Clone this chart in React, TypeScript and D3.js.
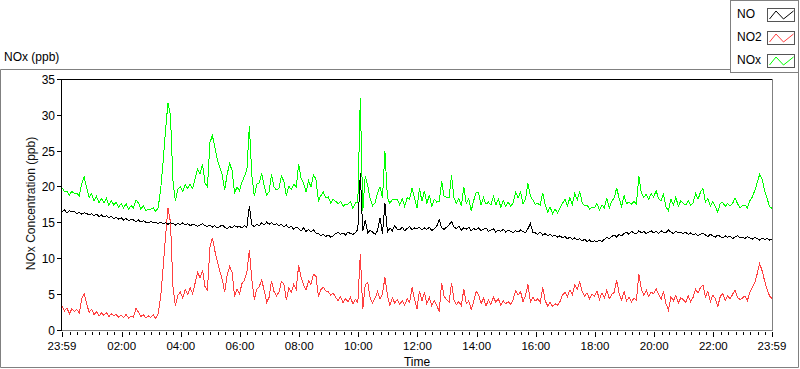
import React from 'react';
import * as d3 from 'd3';

// samples every 5 minutes starting at 23:59
const STEP_MIN = 5;

const NO = [
  16.5, 16.7, 16.3, 16.6, 16.4, 16.5, 16.2, 16.4, 16.1, 16.3, 16.2, 16.0,
  16.2, 15.9, 16.1, 15.8, 16.0, 15.7, 15.9, 15.6, 15.8, 15.5, 15.7, 15.4,
  15.6, 15.3, 15.5, 15.2, 15.4, 15.3, 15.1, 15.3, 15.0, 15.2, 15.0, 14.9,
  15.1, 14.9, 15.0, 14.8, 15.0, 14.8, 14.9, 14.7, 14.9, 14.8, 14.6, 14.8,
  14.7, 14.9, 14.6, 14.8, 14.5, 14.7, 14.6, 14.4, 14.6, 14.8, 14.5, 14.4,
  14.6, 14.3, 14.5, 14.2, 14.4, 14.6, 14.3, 14.1, 14.4, 14.2, 14.5, 14.3,
  14.4, 14.2, 14.5, 14.3, 17.3, 14.6, 14.4, 14.7, 14.5, 14.9, 14.6, 15.0,
  14.7, 14.9, 14.6, 14.8, 14.5, 14.7, 14.3, 14.6, 14.2, 14.4, 14.0, 14.3,
  14.1, 13.8, 14.2, 13.7, 14.0, 13.6, 13.9, 13.5, 13.4, 13.1, 13.3, 13.0,
  13.2, 12.9, 13.1, 13.4, 13.6, 13.3, 13.5, 13.2, 13.6, 13.4, 13.3, 13.5,
  14.0, 21.8, 13.7, 15.3, 13.5, 13.9, 13.6, 13.3, 13.8, 15.6, 13.4, 17.6,
  13.6, 14.2, 13.8, 14.5, 14.0, 13.9, 14.3, 13.8, 14.1, 14.4, 13.9, 14.2,
  14.1, 14.3, 13.9, 14.2, 14.0, 14.3, 13.8, 14.1, 14.4, 15.4, 14.2, 14.0,
  14.3, 14.6, 15.1, 14.3, 14.1, 14.4, 13.9, 14.2, 14.0, 14.3, 13.8, 14.1,
  13.9, 14.2, 13.8, 14.0, 14.2, 13.7, 13.9, 14.1, 13.6, 13.9, 13.7, 14.0,
  13.6, 13.9, 13.7, 13.5, 13.8, 13.6, 13.9, 13.7, 13.5, 14.1, 14.8, 13.6,
  13.5, 13.3, 13.6, 13.2, 13.4, 13.1, 13.3, 13.0, 13.2, 12.9, 13.1, 12.8,
  13.0, 12.7, 12.9, 12.6, 12.8, 12.5, 12.7, 12.4, 12.6, 12.3, 12.5, 12.2,
  12.4, 12.2, 12.5, 12.3, 12.6, 12.9, 12.7, 13.0, 13.2, 12.9, 13.3, 13.1,
  13.4, 13.6, 13.3, 13.7, 13.5, 13.4, 13.8, 13.5, 13.7, 13.4, 13.6, 13.8,
  13.5, 13.7, 13.4, 13.8, 13.6, 13.5, 13.9, 13.6, 13.4, 13.7, 13.5, 13.6,
  13.4, 13.6, 13.3, 13.5, 13.2, 13.4, 13.1, 13.3, 13.5, 13.2, 13.0, 13.3,
  13.1, 12.9, 13.2, 13.0, 12.8, 13.1, 12.9, 13.0, 12.7, 12.9, 13.1, 12.8,
  12.9, 12.7, 13.0, 12.8, 12.6, 12.9, 12.7, 12.5, 12.8, 12.6, 12.7, 12.5,
  12.6
];

const NO2 = [
  3.3, 2.6, 3.0, 2.2, 2.9, 2.5, 2.8, 2.3, 4.3, 5.0, 3.6, 2.4,
  2.8, 2.1, 2.5, 1.9, 2.3, 2.0, 2.4, 1.8, 2.2, 1.9, 2.1, 1.7,
  2.0, 1.7, 2.1, 1.6, 1.9, 1.7, 3.0, 2.4, 1.8, 2.1, 1.6, 1.9,
  1.7, 2.1, 1.5, 2.2, 4.5, 8.5, 13.0, 17.0, 15.0, 6.0, 3.3, 4.8,
  5.2, 4.4, 5.6, 4.9, 5.8, 5.0, 6.5, 8.0, 7.2, 8.3, 6.0, 5.5,
  11.5, 12.8, 11.0, 9.5, 8.2, 7.0, 5.2, 7.6, 8.8, 8.0, 4.6, 5.6,
  5.0, 6.4, 6.9, 8.0, 11.1, 7.0, 4.2, 5.6, 6.0, 6.9, 5.5, 3.8,
  4.5, 6.8, 5.3, 4.7, 5.2, 6.7, 6.4, 4.1, 5.8, 5.2, 6.3, 5.6,
  9.0, 7.3, 6.2, 5.5, 6.8, 6.3, 7.7, 7.5, 4.6, 5.6, 5.9, 5.4,
  5.3, 4.8, 5.1, 4.5, 4.0, 4.6, 3.7, 4.3, 3.9, 4.5, 3.6, 4.2,
  3.8, 10.5, 2.8, 6.2, 6.6, 4.4, 3.7, 4.4, 5.3, 4.3, 5.0, 7.3,
  4.8, 3.4, 4.4, 3.7, 4.2, 3.5, 4.0, 3.4, 4.3, 3.8, 5.9, 4.2,
  2.9, 5.4, 4.0, 5.2, 3.6, 4.5, 3.3, 4.1, 3.4, 2.5, 6.5, 4.6,
  4.2, 3.8, 6.5, 4.1, 3.5, 3.9, 3.3, 5.7, 3.6, 4.0, 2.8, 3.9,
  5.3, 4.9, 3.6, 4.4, 3.3, 4.1, 3.5, 4.5, 3.8, 4.3, 3.4, 4.0,
  3.6, 3.9, 3.5, 4.2, 5.4, 4.8, 5.3, 3.9, 4.7, 6.3, 3.8, 4.5,
  4.0, 4.3, 3.8, 5.9, 4.0, 3.3, 3.8, 3.2, 3.6, 3.4, 3.9, 4.8,
  5.2, 4.6, 5.5, 4.9, 6.2, 5.6, 6.6, 5.3, 4.7, 5.1, 4.3, 4.9,
  4.6, 5.4, 4.2, 5.1, 4.4, 5.5, 4.3, 4.9, 5.2, 6.9, 5.0, 4.1,
  5.3, 4.0, 4.5, 3.8, 4.4, 4.1, 7.7, 5.6, 4.8, 5.5, 4.6, 5.2,
  5.0, 5.7, 4.9, 4.2, 5.3, 3.6, 2.7, 4.6, 4.0, 4.8, 3.7, 4.4,
  4.2, 3.8, 4.7, 3.9, 4.5, 5.6, 5.1, 5.9, 6.2, 4.6, 5.3, 3.9,
  4.8, 4.3, 3.2, 4.6, 5.0, 4.1, 4.7, 4.3, 4.9, 5.5, 4.5, 4.2,
  4.4, 4.7, 4.0, 5.2, 5.9, 6.5, 7.8, 9.2, 8.2, 6.8, 5.6, 4.7,
  4.3
];

// NOx is the sum of NO and NO2
const NOx = NO.map((v, i) => v + NO2[i]);

const xTickMinutes = [0, 121, 241, 361, 481, 601, 721, 841, 961, 1081, 1201, 1321, 1440];
const xTickLabels = ['23:59', '02:00', '04:00', '06:00', '08:00', '10:00', '12:00', '14:00', '16:00', '18:00', '20:00', '22:00', '23:59'];
const yTicks = [0, 5, 10, 15, 20, 25, 30, 35];

const legendNames = ['NO', 'NO2', 'NOx'];
const legendColors = ['#000000', '#ff4040', '#00ff00'];

const FONT = '"Liberation Sans", Arial, sans-serif';

export default function App() {
  const width = 800, height = 369;
  const margin = { left: 62, right: 772, top: 79, bottom: 330 };

  const x = d3.scaleLinear().domain([0, 1440]).range([margin.left, margin.right]);
  const y = d3.scaleLinear().domain([0, 35]).range([329.5, margin.top]);

  const minutes = NO.map((_, i) => i * STEP_MIN);
  const line = d3.line<number>()
    .x((_, i) => x(minutes[i]))
    .y(d => y(d));

  const minorTicks = d3.range(1, 1440, 15).filter(m => !xTickMinutes.includes(m));

  // legend icon zigzag in box-local coords
  const icon = d3.line<[number, number]>()([[2, 10.5], [8.5, 2.5], [16, 10.5], [26, 2.5]]);

  return (
    <svg width={width} height={height} style={{ position: 'absolute', left: 0, top: 0, background: '#fff' }}
      fontFamily={FONT}>
      {/* outer frame */}
      <path d="M730,69.5 H0.5 V367.5 H798.5 V72" fill="none" stroke="#808080" />
      <text x={4} y={61} fontSize={12} fill="#000">NOx (ppb)</text>

      {/* legend */}
      <rect x={730.5} y={0.5} width={68} height={72} fill="#fff" stroke="#808080" />
      {legendNames.map((n, i) => (
        <g key={n} transform={`translate(0, ${i * 23})`}>
          <text x={737} y={18} fontSize={12} fill="#000">{n}</text>
          <g transform="translate(767.5, 8.5)">
            <rect x={0} y={0} width={27} height={13} fill="#fff" stroke="#555" />
            <path d={icon || ''} fill="none" stroke={legendColors[i]} strokeWidth={1} />
          </g>
        </g>
      ))}

      {/* plot area */}
      <rect x={margin.left} y={margin.top} width={margin.right - margin.left} height={margin.bottom - margin.top} fill="#fff" />

      {/* series */}
      <g fill="none" strokeWidth={1} shapeRendering="crispEdges">
        <path d={line(NOx) || ''} stroke="#00ff00" />
        <path d={line(NO2) || ''} stroke="#ff4040" />
        <path d={line(NO) || ''} stroke="#000000" />
      </g>

      {/* plot borders */}
      <line x1={margin.left - 0.5} x2={margin.right} y1={margin.top + 0.5} y2={margin.top + 0.5} stroke="#000" />
      <line x1={margin.left - 0.5} x2={margin.left - 0.5} y1={margin.top} y2={margin.bottom + 1} stroke="#000" />
      <line x1={margin.right + 0.5} x2={margin.right + 0.5} y1={margin.top} y2={margin.bottom + 1} stroke="#808080" />
      <line x1={margin.left} x2={margin.right + 1} y1={margin.bottom + 0.5} y2={margin.bottom + 0.5} stroke="#808080" />

      {/* y axis */}
      {yTicks.map(t => (
        <g key={t}>
          <line x1={57} x2={61} y1={Math.round(y(t)) + 0.5} y2={Math.round(y(t)) + 0.5} stroke="#000" />
          <text x={55} y={Math.round(y(t)) + 4.5} fontSize={12} textAnchor="end" fill="#000">{t}</text>
        </g>
      ))}
      <text transform={`translate(35, 203.5) rotate(-90)`} fontSize={12} textAnchor="middle" fill="#111">
        NOx Concentration (ppb)
      </text>

      {/* x axis */}
      {minorTicks.map(m => (
        <line key={m} x1={Math.round(x(m)) + 0.5} x2={Math.round(x(m)) + 0.5} y1={332} y2={335} stroke="#000" />
      ))}
      {xTickMinutes.map((m, i) => (
        <g key={m + '-' + i}>
          <line x1={Math.round(x(m)) + 0.5} x2={Math.round(x(m)) + 0.5} y1={332} y2={337} stroke="#000" />
          <text x={x(m)} y={350} fontSize={11.5} textAnchor="middle" fill="#000">{xTickLabels[i]}</text>
        </g>
      ))}
      <text x={(margin.left + margin.right) / 2} y={366} fontSize={12} textAnchor="middle" fill="#000">Time</text>
    </svg>
  );
}
